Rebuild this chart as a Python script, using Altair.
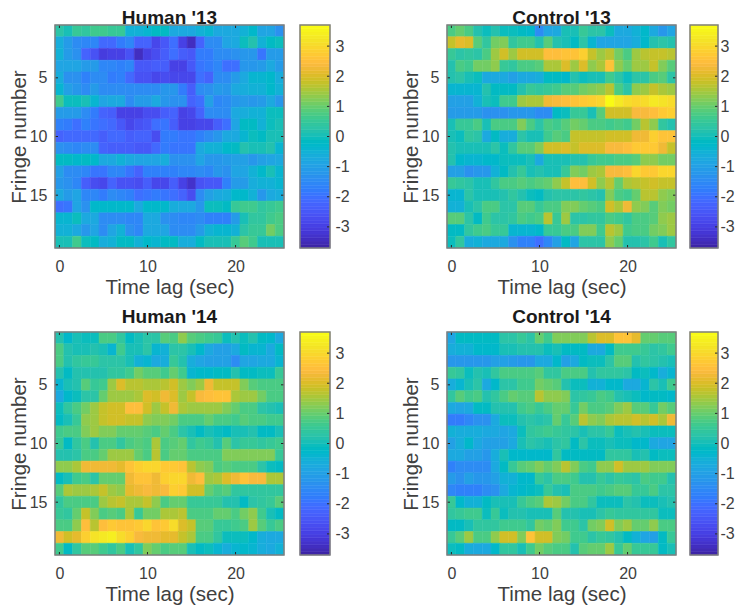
import altair as alt
import pandas as pd

HUMAN13 = [
[.3,.1,.5,.4,.6,.6,.5,.5,-.5,-.5,-.4,-.2,-.2,-.7,-.7,-.7,-.5,-.4,-.7,-.7,-.7,-.5,-.3,-.9,-.9,-1.3],
[-.6,-1.1,-1.5,-1.6,-1.6,-2.1,-2.1,-1.8,-1.6,-2.2,-2.2,-2.8,-2.5,-2.0,-2.9,-3.4,-2.2,-1.4,-1.5,-.9,-.8,-.1,.2,-.5,-.2,-.1],
[-.5,-1.1,-1.3,-2.3,-2.6,-3.1,-3.0,-2.9,-2.6,-3.4,-2.9,-2.7,-2.4,-2.0,-2.4,-2.5,-1.8,-1.8,-1.4,-1.4,-1.3,-1.2,-1.2,-1.9,-1.1,-1.1],
[-.9,-.9,-.9,-1.1,-1.1,-1.6,-1.6,-1.7,-1.6,-2.5,-2.5,-2.4,-2.4,-2.9,-3.0,-2.5,-1.9,-1.8,-1.6,-2.0,-2.0,-1.2,-1.2,-1.1,-.8,-1.1],
[-.6,-1.3,-1.3,-1.7,-1.5,-1.5,-1.8,-1.7,-2.1,-2.6,-2.6,-2.8,-2.7,-2.8,-2.8,-2.8,-2.0,-2.2,-1.5,-1.4,-1.1,-.8,-.4,-.4,-.3,-.6],
[-.4,-1.0,-1.2,-1.4,-1.1,-1.4,-1.4,-1.4,-1.5,-1.5,-1.4,-1.5,-1.2,-1.2,-1.8,-2.4,-1.5,-1.3,-1.1,-1.2,-.8,-.6,-.5,-.5,-.3,-.5],
[.6,-.1,-.1,0,-.4,-.9,-.8,-.7,-1.4,-1.1,-1.1,-.7,-1.2,-1.3,-1.3,-2.2,-2.0,-1.0,-1.6,-1.5,-1.2,-1.1,-1.2,-1.1,-.8,-1.2],
[-1.1,-1.1,-1.1,-1.4,-1.8,-2.3,-2.4,-2.9,-3.0,-3.0,-2.7,-2.7,-2.4,-2.3,-2.9,-2.8,-2.3,-1.5,-1.5,-1.4,-.8,-.6,-.5,-.5,-.1,-.1],
[-1.7,-1.8,-2.0,-1.7,-1.9,-2.0,-2.1,-2.5,-2.8,-2.6,-2.5,-2.0,-1.9,-2.4,-2.9,-2.9,-2.8,-2.8,-2.4,-2.0,-.9,-.2,-.2,-.5,-.1,0],
[-2.2,-2.1,-2.1,-2.1,-2.1,-2.4,-2.1,-2.1,-2.4,-2.3,-2.2,-2.7,-1.8,-1.8,-1.9,-1.9,-1.7,-1.5,-1.2,-.8,-.8,-.4,-.1,-.2,0,0],
[-1.3,-1.4,-1.6,-1.5,-1.5,-2.2,-2.4,-2.4,-2.4,-2.5,-2.5,-2.1,-1.8,-1.9,-1.9,-1.9,-.8,-.5,-.5,-.3,-.2,.2,0,.1,.2,-.4],
[-.2,-.2,-.3,-.2,-.3,-.8,-.7,-.5,-.8,-.9,-.9,-.9,-.6,-1.3,-1.3,-1.3,-.9,-1.2,-1.2,-1.1,-1.0,-1.0,-1.2,-1.0,-.9,-.7],
[-1.0,-1.4,-1.4,-1.6,-1.9,-1.9,-1.6,-1.6,-1.9,-2.2,-1.7,-1.7,-1.7,-1.7,-1.6,-1.6,-1.5,-1.6,-1.2,-1.3,-.9,-.9,-.5,-.3,.1,-.4],
[-1.2,-1.3,-1.6,-2.4,-2.7,-2.8,-2.2,-2.6,-2.6,-2.7,-2.4,-2.8,-2.8,-2.4,-3.0,-3.3,-2.6,-2.5,-2.5,-1.7,-1.1,-1.1,-.6,-.5,-.5,-.4],
[-.8,-1.1,-.9,-1.6,-1.6,-1.8,-1.5,-1.6,-1.7,-2.0,-1.9,-1.8,-1.9,-2.0,-2.3,-2.7,-1.5,-1.0,-.8,-.6,-.3,-.3,-.5,-1.2,-.8,-.6],
[-2.0,-1.9,-.9,-1.3,-.3,-.3,-.3,-.3,-.3,-.8,-.3,-.3,-.3,-.6,-.8,-.7,-1.2,-.1,-.1,-.2,.5,.6,.6,.4,.5,.6],
[-.4,-.4,-.1,-.8,-.8,-1.4,-1.4,-1.5,-1.6,-1.6,-.8,-.8,-1.3,-1.5,-1.6,-1.6,-1.4,-1.7,-1.7,-1.7,-1.1,0,.4,.4,.6,.8],
[-.5,-.5,-.7,-1.2,-.9,-1.4,-.9,-.5,-1.3,-1.6,-.8,-.8,-.9,-1.4,-1.4,-1.5,-1.1,-.5,-.4,-.4,-.5,.3,.5,.5,1.1,.8],
[0,0,.6,-.1,-.2,-.6,-.5,-.2,-.2,-.5,-.3,-.4,-.2,-.2,-.6,-.6,-.2,.1,0,0,.5,.9,.6,0,.1,.1],
]
CONTROL13 = [
[.7,1,.7,.2,-.1,.2,-.1,-.1,-.2,-.3,-1.5,-.9,-.8,0,0,.5,.3,.3,-.1,-.8,-.8,-.5,-.3,-.8,-1.2,-.9],
[1.8,2.1,2.0,.9,.4,1.1,1.2,.4,.6,.6,.2,.9,.2,.1,-.2,.3,-.4,-.9,-.9,-.9,-.9,-.6,-.3,.2,.3,.2],
[.5,.3,.4,.3,.8,1.4,1.9,1.5,1.9,1.9,1.9,2.5,2.5,2.6,2.6,2.8,1.8,1.4,1.7,1.1,.8,1.4,1.7,1.8,1.8,1.7],
[.2,.7,.6,1.1,1.1,1.3,.5,.4,.7,.7,.9,1.6,1.6,2.0,1.5,2.0,1.3,1.6,2.6,1.3,1.0,1.4,1.5,1.8,1.2,.9],
[.2,.3,.1,-.1,-.7,-.8,-.8,-1.0,-.8,-.7,-.6,-.2,-.2,-.3,.2,-.1,.1,.1,.6,.3,-.1,.3,.3,.8,.9,.3],
[-.4,-.4,-.4,-.4,.2,-.2,-.2,-.2,.2,.5,.4,.5,.6,.9,.9,1.1,1.2,1.3,1.7,.8,.3,1.3,1.4,1.8,1.6,1.5],
[-1,-1,-1,-.5,.1,-.1,.6,.6,1.5,1.6,1.6,2.3,2.4,2.5,2.6,2.7,2.8,3.0,3.6,3.3,3.1,3.0,3.1,3.3,3.2,3.1],
[-1.1,-1.1,-1.1,-1.1,-1.3,-1.3,-1.3,-1.2,-1.2,-1.2,-1.4,-1.5,-.2,-.1,.5,.5,0,.9,1.9,1.9,1.9,2.4,2.4,2.5,2.7,2.8],
[0,.5,.5,.7,.1,.8,.7,.7,1.2,.7,.3,.7,.6,.9,1.1,1,.7,.8,.6,.7,.6,1.1,1.7,1.3,.4,.2],
[.1,-.1,.4,.3,-.7,-.2,-.6,-.6,.3,.1,.1,.6,.9,.8,1.8,1.8,1.8,1.8,1.9,1.9,1.9,2.2,2.2,2.8,2.6,2.6],
[.2,.1,.1,.1,0,.3,-.1,.4,.9,.9,1.2,1.9,1.9,2.0,1.8,2.0,2.0,2.0,2.4,2.4,2.5,2.7,2.7,2.7,2.2,1.8],
[.2,-.3,-.4,-.4,-.3,-.3,-.1,-.1,-.1,0,-.7,.1,.1,.1,.2,.2,.5,.6,.6,.7,.7,.9,1.3,1.3,1.1,1.1],
[-1.0,-1.0,-1.3,-1.2,-1.2,-.5,-.2,.2,.5,.1,.2,.1,.1,.5,1.2,1.1,1.4,1.6,2.4,2.4,2.5,2.9,2.7,2.7,2.9,3.0],
[.5,.4,.3,0,.1,.4,.7,.7,.9,.8,.9,1.0,1.3,1.8,2.5,2.5,1.9,1.3,1.7,1.0,1.6,1.7,1.8,1.9,1.8,1.8],
[-.4,-.4,.3,0,.1,.1,.2,.4,.2,-.1,-.2,.2,.3,.3,.3,.4,.3,.2,1.2,.7,.6,1.0,1.7,1.7,1.3,1.2],
[-.5,-.5,.1,.3,.7,.7,.3,.3,.9,.9,.5,.7,.7,1.2,1.2,1.0,.9,.8,1.9,1.6,2.2,1.3,1.2,.9,1.2,1.1],
[.9,.9,.3,-.2,.6,.3,.3,.4,.7,.6,.8,1.7,.5,1.4,.3,.3,.4,.4,.8,.6,.4,.7,.7,.9,1.3,1.5],
[-.2,-.2,.4,.6,.7,.5,.5,-.4,-.4,-.4,-.3,.5,.5,.8,.8,1.2,1.2,.6,1.7,1.4,.6,.7,.7,1.1,1.2,1.5],
[-.1,.4,-.6,-.5,-.7,-.7,-.8,-1.3,-1.7,-1.7,-2.0,-1.6,-1.0,-.2,-.9,.3,.3,.3,1.3,1.0,.2,.2,.3,.6,0,.4],
]
HUMAN14 = [
[.2,-.3,0,-.1,-.1,.7,.7,.4,-.2,.1,.3,.3,.9,.8,1.3,.9,.7,.6,.5,-.1,.2,-.1,.2,-.2,-.3,-.7],
[.8,.2,0,.1,.2,.1,-.4,.6,0,.1,.3,-.4,-.5,.3,.3,0,-.3,-.7,-1,-1,-.7,-.2,-.4,-.4,-.8,-.2],
[.7,.2,.4,.5,.5,.3,.3,.3,.1,-.5,-.4,-.7,-.6,.5,.2,-.6,-.9,-1,-1,-1,-1.4,-.9,-.9,-.8,-.7,-.4],
[.2,-.2,.2,.2,.2,.2,.4,.4,.6,1.1,.9,.9,.6,1.0,.6,-.4,-.3,-.3,-.2,-.2,.2,-.2,-.2,-.1,-.1,.5],
[-.4,.1,.2,.9,.5,.6,1.4,2.0,1.7,1.7,1.6,1.6,1.7,1.9,1.5,1.2,1.5,2.2,1.8,1.8,1.8,1.2,.9,.7,.8,.7],
[-.7,-.3,-.1,.3,.3,1.0,1.4,1.5,1.4,1.6,2.0,1.9,2.3,2.0,1.4,1.8,2.4,2.5,2.6,2.6,1.6,1.4,1.4,1.1,.7,.8],
[-.1,.4,.8,1.1,1.5,1.8,1.9,1.9,2.5,2.5,1.9,1.4,1.8,2.3,1.6,1.5,1.5,1.5,1.4,1.2,1.0,.7,.7,.3,.2,.1],
[-.2,.1,.5,1.3,1.4,1.8,1.9,1.9,1.8,1.8,1.3,1.2,1.2,1.1,.8,.8,.7,1.0,.8,.7,.6,.9,.7,.7,.6,.6],
[.6,.7,.7,1.2,1.4,1.2,1.2,1.0,1.0,1.0,.9,.7,1.0,.7,.3,.1,-.2,.1,-.1,-.2,.1,.1,.2,-.2,-.2,0],
[.5,-.2,.4,.7,.2,.7,.7,.4,.8,.9,.7,1.6,.7,.9,1.0,.4,.6,.5,.2,.9,.3,.5,.5,.4,.5,.6],
[.2,.2,.3,.8,.7,1.0,1.5,1.5,1.4,1.0,.8,1.7,.7,1.0,1.0,.8,.8,.7,.8,1.2,1.2,1.2,1.2,1.2,1.2,.5],
[1.3,1.3,1.6,2.3,2.3,2.3,2.2,2.1,2.6,2.8,3.0,2.9,2.7,2.7,2.6,1.7,1.3,1.2,.8,.9,.8,.8,.7,.3,-.1,-.2],
[-.2,0,.6,.7,.3,1,1,1,2.3,2.6,2.6,2.3,2.8,3.0,2.9,2.3,2.5,1.4,1.6,2.0,2.2,2.6,2.4,2.4,1.6,1.6],
[.9,1.6,1.4,1.4,1.6,1.8,1.4,1.3,2.1,2.3,2.4,2.3,2.4,2.8,2.7,1.9,1.9,1.0,.7,.9,.4,.4,.4,.4,.4,.4],
[.4,.7,.7,.8,.8,1.5,1.7,1.8,1.6,1.6,1.8,1.3,.8,1.0,1.0,.5,.5,.5,.5,.2,.2,-.2,.3,.4,.5,.9],
[.5,.4,1.0,1.8,1.2,.8,.9,.7,1.6,.5,1.1,1.1,1.6,1.6,1.7,.7,.7,.7,1.0,1.0,.8,1.1,1.3,.6,0,-.2],
[.8,.7,1.3,2.5,1.7,2.5,2.7,2.6,2.6,2.7,3.0,2.6,2.7,3.1,2.0,1.8,.9,.9,.5,.5,.6,.7,1.4,.9,.5,.8],
[2.3,1.9,2.1,2.8,3.2,3.3,3.4,3.1,2.8,2.4,2.3,2.2,2.1,2.1,1.8,1.6,.8,.8,.4,-.1,-.1,-.1,-.3,-.6,-.8,-.8],
[.6,-.2,.4,.9,.9,.6,.4,.7,.1,.4,1.2,1.0,.8,.9,.9,.1,-.2,-.1,-.4,-.6,-.4,-.3,-.4,-.6,-.7,-.5],
]
CONTROL14 = [
[-.9,-.2,-.2,-.2,-.2,-.2,.3,.3,.5,.3,1.0,.6,1.2,1.2,1.2,1.2,1.7,2.0,2.0,2.6,2.6,2.1,1,1,.9,.9],
[-.6,-.5,-.5,-.3,-.3,-.3,0,0,.2,.2,.2,-.1,.1,-.2,-.2,-.2,-.8,-.8,-.2,.6,.6,.6,.5,.3,.4,.6],
[-1.2,-1.2,-1.2,-1.2,-1.2,-1.0,-1.0,-1.1,-1.2,-1.2,-.8,-.8,-.3,-1,-.8,-.2,-.1,-.1,.3,.9,.9,.2,.4,.3,.2,.1],
[.5,.4,-.1,.2,0,.4,.8,.8,.7,.7,.9,.4,.4,.7,.7,.7,.2,.4,.4,.4,.3,-.2,-.1,-.3,-.6,-.4],
[-.6,-.4,.1,.3,-.7,-.3,.3,.3,.6,.6,1.1,1.0,.9,.2,-.1,-.1,-.5,-.5,-.3,-.3,-.7,-.8,-.4,.3,.1,.6],
[.4,.9,.6,.7,.2,.4,.7,1.0,.9,.9,1.7,1.3,1.3,1.2,.3,.4,.5,.7,.6,.2,.1,-.1,-.3,-.2,-.2,-.3],
[-.7,-.9,-.7,-.2,-.2,.2,.2,.2,.6,.8,.5,.7,1.0,1.0,.5,1.1,.8,.8,.9,1.2,1.4,.9,.9,.5,1.1,.9],
[-1.8,-1.8,-1.6,-1.3,-1.3,-.8,-.1,-.1,.2,.3,.2,.3,1.0,.5,.9,1.7,1.3,1.2,1.6,1.7,1.7,1.9,1.7,1.9,1.6,2.2],
[-.5,-.6,-.6,-.6,-.7,-.7,-.9,-.8,-.1,.4,.5,.6,.5,.4,.3,0,.3,.3,.5,-.1,.1,.2,.1,-.1,-.1,-.1],
[-1,-.6,-.3,-.8,-1,-1,-1,-.7,.1,.3,.2,.1,.3,.4,-.2,.3,-.1,-.1,.1,-.1,-.1,-.3,-.3,-.8,-.9,-.9],
[-.8,-.8,-1,-1,-1.2,-.6,.1,-.3,-.3,-.3,-.3,-.3,.4,-.2,-.2,-.2,-.2,-.2,.4,.4,.4,.1,.2,-.2,-.1,-.1],
[-1.7,-1.5,-1.5,-1.5,-1.5,-.7,-.2,.5,.9,1.0,1.2,1.0,1.2,1.7,1.2,.7,.6,1.3,1.3,1.9,1.5,1.5,1.5,1.2,1.2,1.2],
[-1.1,-1.3,-1,-1.2,-1.2,-1,-.5,-.5,-.3,-.3,.5,.3,.8,.8,.6,.2,.2,.5,.3,.5,.4,.3,.7,.6,.6,.2],
[-1.6,-1.7,-1.7,-1.7,-1.4,-1.3,-.8,-.4,-.3,-.2,-.1,.5,.2,.1,.7,.7,.7,.6,.7,.9,.9,.5,.5,.7,.3,.3],
[.5,-.3,-.5,-.5,-.2,0,.1,.1,.5,.7,.9,1.6,1.5,1.1,.7,.8,.4,-.1,-.1,-.1,.3,.2,-.1,-.1,0,.2],
[.4,.5,.6,.6,-.1,.5,-.1,.2,.2,.1,.1,.1,.9,.2,.2,.1,.1,.3,.5,.4,.4,.4,.4,.4,-.1,-.1],
[-.2,-.2,0,.4,.4,.4,.6,.6,.6,.4,1.1,1.0,1.2,.6,.6,.3,1.1,1.2,1.9,1.2,1.5,1.0,1.0,1.3,.7,.7],
[.5,.9,1.4,.8,.8,1.3,1.9,1.9,1.2,2.6,1.9,1.9,1.2,1.1,.6,.6,.3,.5,.4,.2,-.2,-.5,-.9,-1.0,-.2,.5],
[-.1,-.2,-.6,-.7,-.7,-.3,.4,.4,.1,.6,1.1,.9,.8,.8,.2,.9,1.0,1.0,1.4,.5,1.0,.5,.5,.5,-.2,.1],
]
X_TICKS = [0, 10, 20]
Y_TICKS = [5, 10, 15]
CB_TICKS = [-3, -2, -1, 0, 1, 2, 3]
TITLES = ["Human '13", "Control '13", "Human '14", "Control '14"]
PARULA_RGB = [
(.2422,.1504,.6603),(.2504,.1650,.7076),(.2578,.1818,.7511),(.2647,.1978,.7952),(.2706,.2147,.8364),(.2751,.2342,.8710),
(.2783,.2559,.8991),(.2803,.2782,.9221),(.2813,.3006,.9414),(.2810,.3228,.9579),(.2795,.3447,.9717),(.2760,.3667,.9829),
(.2699,.3892,.9906),(.2602,.4123,.9952),(.2440,.4358,.9988),(.2206,.4603,.9973),(.1963,.4847,.9892),(.1834,.5074,.9798),
(.1786,.5289,.9682),(.1764,.5499,.9520),(.1687,.5703,.9359),(.1540,.5902,.9218),(.1460,.6091,.9079),(.1380,.6276,.8973),
(.1248,.6459,.8883),(.1113,.6635,.8763),(.0952,.6798,.8598),(.0689,.6948,.8394),(.0297,.7082,.8163),(.0036,.7203,.7917),
(.0067,.7312,.7660),(.0433,.7411,.7394),(.0964,.7500,.7120),(.1408,.7584,.6842),(.1717,.7670,.6554),(.1938,.7758,.6251),
(.2161,.7843,.5923),(.2470,.7918,.5567),(.2906,.7973,.5188),(.3406,.8008,.4789),(.3909,.8029,.4354),(.4456,.8024,.3909),
(.5044,.7993,.3480),(.5616,.7942,.3045),(.6174,.7876,.2612),(.6720,.7793,.2227),(.7242,.7698,.1910),(.7738,.7598,.1646),
(.8203,.7498,.1535),(.8634,.7406,.1596),(.9035,.7330,.1774),(.9393,.7288,.2100),(.9728,.7298,.2394),(.9956,.7434,.2371),
(.9970,.7659,.2199),(.9952,.7893,.2028),(.9892,.8136,.1885),(.9786,.8386,.1766),(.9676,.8639,.1643),(.9610,.8890,.1537),
(.9597,.9135,.1423),(.9628,.9373,.1265),(.9691,.9606,.1064),(.9769,.9839,.0805)]
PARULA = ["#%02x%02x%02x" % tuple(round(c * 255) for c in t) for t in PARULA_RGB]

for m in (HUMAN13, CONTROL13, HUMAN14, CONTROL14):
    assert len(m) == 19 and all(len(r) == 26 for r in m), [len(r) for r in m]

W, H = 229, 223
VMAX = 3.7
FONT = "Liberation Sans"
TICK = "#262626"
EDGE = "#7f7f7f"
TXT = "#404040"
xs = alt.Scale(domain=[-0.5, 25.5], nice=False, zero=False)
ys = alt.Scale(domain=[19.5, 0.5], nice=False, zero=False)
cbs = alt.Scale(domain=[-VMAX, VMAX], nice=False, zero=False)
cs = alt.Scale(type="quantize", domain=[-VMAX, VMAX], range=PARULA)
x_axis = alt.Axis(values=X_TICKS, grid=False, domain=False, tickSize=0, labelPadding=10, titlePadding=3, format="d")
y_axis = alt.Axis(values=Y_TICKS, grid=False, domain=False, tickSize=0, labelPadding=8, titlePadding=0, format="d")
XT = "Time lag (sec)"
YT = "Fringe number"


def border(w, h):
    return alt.Chart(pd.DataFrame({"a": [0]})).mark_rect(
        fillOpacity=0, stroke=EDGE, strokeWidth=1.5
    ).encode(x=alt.value(0), x2=alt.value(w), y=alt.value(0), y2=alt.value(h))


def heat(matrix, title, title_y):
    rows = [
        {"x0": c - 0.5, "x1": c + 0.5, "y0": r + 0.5, "y1": r + 1.5, "v": v}
        for r, row in enumerate(matrix)
        for c, v in enumerate(row)
    ]
    base = alt.Chart(pd.DataFrame(rows)).mark_rect(strokeWidth=0.5).encode(
        x=alt.X("x0:Q", scale=xs, title=XT, axis=x_axis),
        x2="x1:Q",
        y=alt.Y("y0:Q", scale=ys, title=YT, axis=y_axis),
        y2="y1:Q",
        color=alt.Color("v:Q", scale=cs, legend=None),
        stroke=alt.Stroke("v:Q", scale=cs, legend=None),
    )
    xt = alt.Chart(pd.DataFrame({"t": X_TICKS})).mark_rule(color=TICK, strokeWidth=1)
    yt = alt.Chart(pd.DataFrame({"t": Y_TICKS})).mark_rule(color=TICK, strokeWidth=1)
    xe = alt.X("t:Q", scale=xs, title=XT, axis=x_axis)
    ye = alt.Y("t:Q", scale=ys, title=YT, axis=y_axis)
    label = alt.Chart(pd.DataFrame({"name": [title]})).mark_text(
        font=FONT, fontSize=19, fontWeight="bold", color="#1a1a1a", baseline="middle", align="center"
    ).encode(x=alt.value(W / 2), y=alt.value(title_y), text="name:N")
    return alt.layer(
        base,
        xt.encode(x=xe, y=alt.value(H), y2=alt.value(H - 3)),
        xt.encode(x=xe, y=alt.value(0), y2=alt.value(3)),
        yt.encode(y=ye, x=alt.value(0), x2=alt.value(3)),
        yt.encode(y=ye, x=alt.value(W), x2=alt.value(W - 3)),
        border(W, H),
        label,
    ).properties(width=W, height=H)


def colorbar(cbw, pad):
    n = len(PARULA)
    step = 2 * VMAX / n
    df = pd.DataFrame({
        "lo": [-VMAX + i * step for i in range(n)],
        "hi": [-VMAX + (i + 1) * step for i in range(n)],
        "v": [-VMAX + (i + 0.5) * step for i in range(n)],
    })
    cb_axis = alt.Axis(values=CB_TICKS, orient="right", grid=False, domain=False, tickSize=0, labelPadding=pad,
                       labelExpr="'' + datum.value")
    bar = alt.Chart(df).mark_rect(strokeWidth=0.5).encode(
        x=alt.value(0), x2=alt.value(cbw),
        y=alt.Y("lo:Q", scale=cbs, title=None, axis=cb_axis),
        y2="hi:Q",
        color=alt.Color("v:Q", scale=cs, legend=None),
        stroke=alt.Stroke("v:Q", scale=cs, legend=None),
    )
    ticks = alt.Chart(pd.DataFrame({"t": CB_TICKS})).mark_rule(color=TICK, strokeWidth=1).encode(
        y=alt.Y("t:Q", scale=cbs, title=None, axis=cb_axis), x=alt.value(cbw - 3), x2=alt.value(cbw)
    )
    return alt.layer(bar, ticks, border(cbw, H)).properties(width=cbw, height=H)


def panel(matrix, title, title_y, gap, cbw, pad):
    return alt.hconcat(heat(matrix, title, title_y), colorbar(cbw, pad), spacing=gap)


top = alt.hconcat(panel(HUMAN13, TITLES[0], -7, 14, 30, 5), panel(CONTROL13, TITLES[1], -7, 12, 28, 2), spacing=51)
bottom = alt.hconcat(panel(HUMAN14, TITLES[2], -15, 14, 30, 5), panel(CONTROL14, TITLES[3], -15, 12, 28, 2), spacing=51)
chart = alt.vconcat(top, bottom, spacing=10).configure_view(stroke=None).configure_axis(
    labelFont=FONT, labelFontSize=16, labelColor=TXT,
    titleFont=FONT, titleFontSize=20.5, titleFontWeight="normal", titleColor=TXT,
).properties(padding=dict(left=1, top=1, right=0, bottom=0), background="white")

chart.save("out.html", embed_options={"renderer": "svg", "actions": False})
